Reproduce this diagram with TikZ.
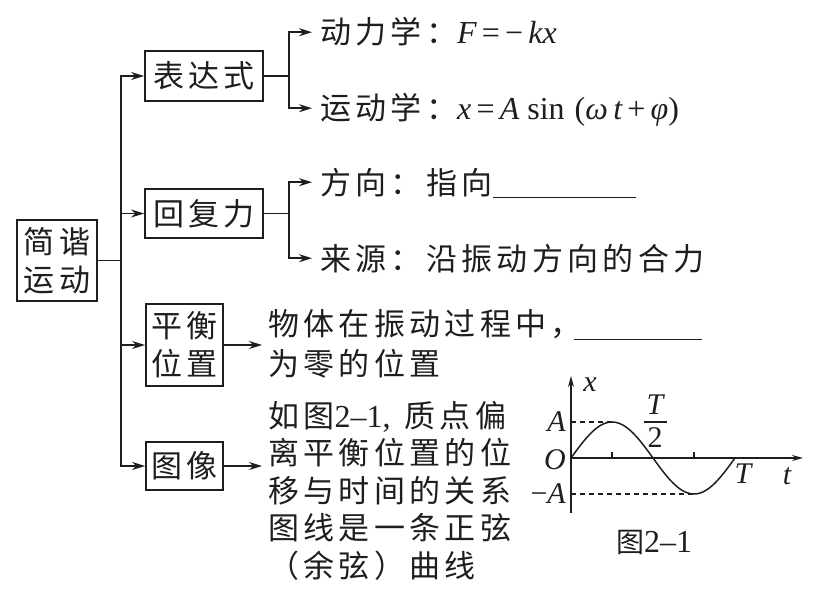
\documentclass[tikz,border=0pt]{standalone}
\usepackage{fontspec}
\newfontfamily\cjk{Noto Sans CJK SC}[LetterSpace=14]
\newfontfamily\tms{Liberation Serif}
\usetikzlibrary{arrows.meta,positioning}

\newcommand{\vi}[1]{{\tms\fontsize{32}{34}\selectfont\itshape #1}}
\newcommand{\vr}[1]{{\tms\fontsize{32}{34}\selectfont #1}}

\begin{document}
\begin{tikzpicture}[x=1pt,y=-1pt]
  % colors close to the figure
  \definecolor{inkgray}{RGB}{30,30,30}

  % styles
  \tikzset{
    box/.style={draw=inkgray, line width=1.8pt, inner sep=0pt, align=center,
      text=inkgray, font=\cjk\fontsize{31}{38}\selectfont},
    txt/.style={inner sep=0pt, anchor=base west, align=left, text=inkgray,
      font=\cjk\fontsize{31}{37.5}\selectfont},
    lnk/.style={draw=inkgray, line width=1.5pt},
    arr/.style={lnk, -{Stealth[length=13pt,width=8pt]}},
    axarr/.style={lnk, -{Stealth[length=11pt,width=6pt]}},
    lab/.style={inner sep=0pt, text=inkgray, font=\tms\fontsize{30}{32}\selectfont},
  }

  \useasboundingbox (0,0) rectangle (832,591);

  % parameters of the small graph
  \def\ox{571}   % origin x
  \def\oy{458}   % origin y
  \def\amp{36}   % amplitude
  \def\per{164}  % period length

  % boxes
  \node[box, minimum width=80, minimum height=81] (root) at (57,260.5) {简谐\\运动};
  \node[box, minimum width=118, minimum height=50] (bds) at (204,76) {表达式};
  \node[box, minimum width=118, minimum height=49] (hfl) at (204,213.5) {回复力};
  \node[box, minimum width=77, minimum height=82] (phw) at (184.5,345) {平衡\\位置};
  \node[box, minimum width=77, minimum height=48] (tx) at (184.5,466) {图像};

  % texts (multi-line ones sit on their last baseline)
  \node[txt] (dyn) at (320,44) {动力学：\vi{F}\,\vr{=}\,\vr{−}\,\vi{kx}};
  \node[txt] (kin) at (320,120) {运动学：\vi{x}\,\vr{=}\,\vi{A}\vr{ sin }\hspace{2pt}\vr{(}\vi{ω\,t}\,\vr{+}\,\vi{φ}\vr{)}};
  \node[txt] (dir) at (320,194) {方向：指向\rule[-4pt]{143pt}{1.3pt}};
  \node[txt] (src) at (320,270) {来源：沿振动方向的合力};
  \node[txt, font=\cjk\fontsize{31}{40}\selectfont] (eqt) at (268,375)
    {物体在振动过程中，\hspace{-8pt}\rule[-5pt]{128pt}{1.3pt}\\为零的位置};
  \node[txt] (imt) at (268,577)
    {如图\vr{2–1,}\hspace{14pt}质点偏\\离平衡位置的位\\移与时间的关系\\图线是一条正弦\\（余弦）曲线};

  % trunk
  \coordinate (tr) at (121,260.5);
  \draw[lnk] (root.east) -- (tr);
  \foreach \b in {bds,hfl,phw,tx}
    \draw[arr] (tr) |- (\b.west);

  % branches
  \draw[arr, shorten >=8pt] (bds.east) -- ++(25,0) |- ([yshift=11.8pt]dyn.base west);
  \draw[arr, shorten >=8pt] (bds.east) -- ++(25,0) |- ([yshift=11.8pt]kin.base west);
  \draw[arr, shorten >=8pt] (hfl.east) -- ++(25,0) |- ([yshift=11.8pt]dir.base west);
  \draw[arr, shorten >=8pt] (hfl.east) -- ++(25,0) |- ([yshift=11.8pt]src.base west);
  \draw[arr, shorten >=6pt] (phw.east) -- (phw.east -| eqt.west);
  \draw[arr, shorten >=6pt] (tx.east) -- (tx.east -| imt.west);

  % graph: axes
  \draw[axarr] (\ox,513) -- (\ox,376);
  \draw[axarr] (\ox,\oy) -- (803,\oy);
  % dashed levels
  \draw[lnk, dash pattern=on 5pt off 4pt] (\ox,\oy-\amp) -- (\ox+\per/4,\oy-\amp);
  \draw[lnk, dash pattern=on 5pt off 4pt] (\ox,\oy+\amp) -- (\ox+3*\per/4,\oy+\amp);
  % ticks
  \draw[lnk] (\ox+\per/4,\oy) -- ++(0,-6);
  \draw[lnk] (\ox+3*\per/4,\oy) -- ++(0,-6);
  % sine curve
  \draw[lnk] plot[domain=0:\per, samples=80, smooth] ({\ox+\x}, {\oy-\amp*sin(\x/\per*360)});

  % graph labels
  \node[lab] (xl) at (590,385) {\itshape x};
  \node[lab, anchor=east] (al) at (566,422) {\itshape A};
  \node[lab, anchor=east] (ol) at (566,460) {\itshape O};
  \node[lab, anchor=east] (mal) at (566,494) {−\itshape A};
  \node[lab] (hT) at (655,405) {\itshape T};
  \node[lab] (h2) at (655,438) {2};
  \draw[lnk, line width=1.2pt] (644,422) -- (667,422);
  \node[lab] (tl) at (743,474) {\itshape T};
  \node[lab] (tv) at (787,476) {\itshape t};
  \node[lab, font=\cjk\fontsize{28}{30}\selectfont] (cap) at (654,542) {图\vr{2–1}};
\end{tikzpicture}
\end{document}
